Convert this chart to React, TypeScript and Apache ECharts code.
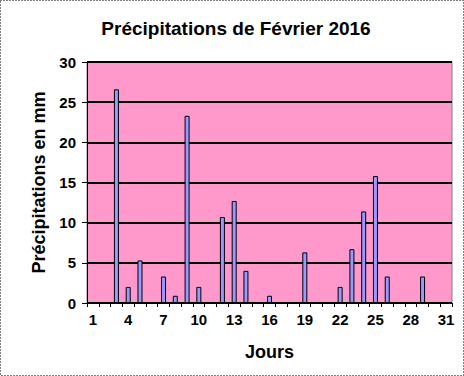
import React, { useEffect, useRef } from "react";
import * as echarts from "echarts";

const days: string[] = Array.from({ length: 31 }, (_, i) => String(i + 1));
const rainDays = [3, 4, 5, 7, 8, 9, 10, 12, 13, 14, 16, 19, 22, 23, 24, 25, 26, 29];
const rainValues = [26.6, 2.0, 5.3, 3.3, 0.9, 23.3, 2.0, 10.7, 12.7, 4.0, 0.9, 6.3, 2.0, 6.7, 11.4, 15.8, 3.3, 3.3];

export default function App() {
  const ref = useRef<HTMLDivElement>(null);
  useEffect(() => {
    if (!ref.current) return;
    const chart = echarts.init(ref.current, null, { renderer: "svg" });
    const values = days.map((d) => {
      const idx = rainDays.indexOf(Number(d));
      return idx >= 0 ? rainValues[idx] : null;
    });
    const font = "'Liberation Sans', Arial, sans-serif";
    chart.setOption({
      animation: false,
      backgroundColor: "#ffffff",
      title: {
        text: "Précipitations de Février 2016",
        left: 231,
        top: 14,
        textAlign: "center",
        textStyle: { fontFamily: font, fontSize: 19, fontWeight: "bold", color: "#000" },
      },
      graphic: [
        {
          type: "rect",
          shape: { x: 0.5, y: 0.5, width: 463, height: 375 },
          style: { fill: "none", stroke: "#000", lineWidth: 1, lineDash: [1, 2] },
          silent: true,
        },
      ],
      grid: {
        left: 87,
        right: 12,
        top: 62,
        bottom: 73,
        show: true,
        backgroundColor: "#FF99CC",
        borderColor: "#808080",
        borderWidth: 1,
      },
      xAxis: {
        type: "category",
        data: days,
        name: "Jours",
        nameLocation: "middle",
        nameGap: 40,
        nameTextStyle: { fontFamily: font, fontSize: 18, fontWeight: "bold", color: "#000" },
        axisLine: { lineStyle: { color: "#000", width: 1 } },
        axisTick: { show: true, interval: 0, length: 4, lineStyle: { color: "#000" } },
        axisLabel: { interval: 2, fontFamily: font, fontSize: 15, fontWeight: "bold", color: "#000", margin: 9 },
        splitLine: { show: false },
      },
      yAxis: {
        type: "value",
        min: 0,
        max: 30,
        interval: 5,
        name: "Précipitations en mm",
        nameLocation: "middle",
        nameGap: 38,
        nameTextStyle: { fontFamily: font, fontSize: 18, fontWeight: "bold", color: "#000" },
        axisLine: { show: true, lineStyle: { color: "#000", width: 1 } },
        axisTick: { show: true, length: 5, lineStyle: { color: "#000" } },
        axisLabel: { fontFamily: font, fontSize: 15, fontWeight: "bold", color: "#000", margin: 11 },
        splitLine: { show: true, lineStyle: { color: "#000", width: 2 } },
      },
      series: [
        {
          type: "bar",
          data: values,
          barWidth: 5,
          itemStyle: { color: "#9999FF", borderColor: "#000", borderWidth: 1 },
        },
      ],
    });
    return () => chart.dispose();
  }, []);
  return <div ref={ref} style={{ position: "fixed", left: 0, top: 0, width: 464, height: 376 }} />;
}
